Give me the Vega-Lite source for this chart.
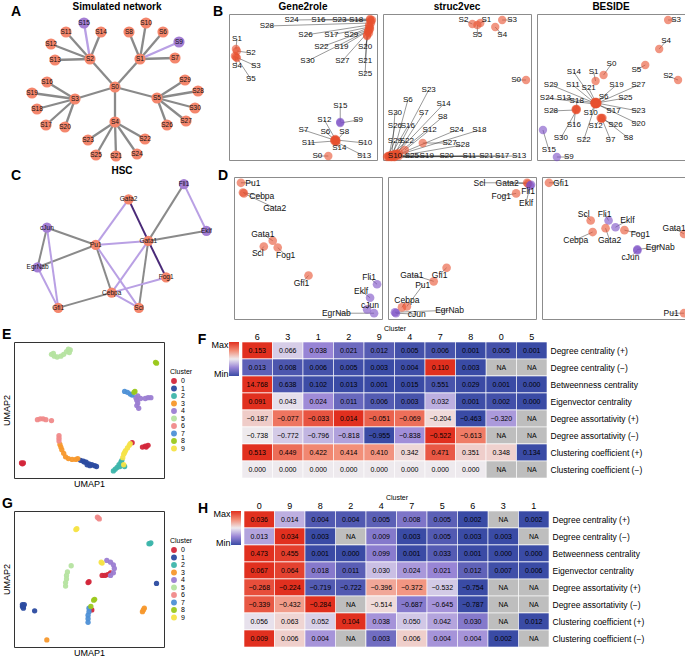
{
"$schema":"https://vega.github.io/schema/vega-lite/v6.json",
"padding":{"left":1,"top":1,"right":1,"bottom":1},
"spacing":4,
"resolve":{"scale":{"color":"independent","stroke":"independent"}},
"datasets":{
"nodesA":[
{"id":"S0","g":"a","x":99,"y":84},{"id":"S1","g":"a","x":124,"y":56},{"id":"S2","g":"a","x":74,"y":56},{"id":"S3","g":"a","x":59,"y":96},{"id":"S4","g":"a","x":99,"y":119},{"id":"S5","g":"a","x":141,"y":95},{"id":"S6","g":"a","x":147,"y":29},{"id":"S7","g":"a","x":159,"y":55},{"id":"S8","g":"a","x":113,"y":29},{"id":"S9","g":"b","x":163,"y":39},{"id":"S10","g":"a","x":130,"y":20},{"id":"S11","g":"a","x":50,"y":29},{"id":"S12","g":"a","x":35,"y":41},{"id":"S13","g":"a","x":39,"y":57},{"id":"S14","g":"a","x":85,"y":29},{"id":"S15","g":"b","x":68,"y":20},{"id":"S16","g":"a","x":31,"y":79},{"id":"S17","g":"a","x":30,"y":122},{"id":"S18","g":"a","x":21,"y":106},{"id":"S19","g":"a","x":16,"y":90},{"id":"S20","g":"a","x":49,"y":124},{"id":"S21","g":"a","x":100,"y":153},{"id":"S22","g":"a","x":129,"y":136},{"id":"S23","g":"a","x":72,"y":137},{"id":"S24","g":"a","x":121,"y":151},{"id":"S25","g":"a","x":80,"y":152},{"id":"S26","g":"a","x":151,"y":122},{"id":"S27","g":"a","x":170,"y":118},{"id":"S28","g":"a","x":182,"y":88},{"id":"S29","g":"a","x":169,"y":77},{"id":"S30","g":"a","x":179,"y":105}
],
"edgesA":[
{"s":"S0","t":"S1","k":"g"},{"s":"S0","t":"S2","k":"g"},{"s":"S0","t":"S3","k":"g"},{"s":"S0","t":"S4","k":"g"},{"s":"S0","t":"S5","k":"g"},
{"s":"S1","t":"S6","k":"g"},{"s":"S1","t":"S7","k":"g"},{"s":"S1","t":"S8","k":"g"},{"s":"S1","t":"S10","k":"g"},{"s":"S1","t":"S9","k":"l"},
{"s":"S2","t":"S11","k":"g"},{"s":"S2","t":"S12","k":"g"},{"s":"S2","t":"S13","k":"g"},{"s":"S2","t":"S14","k":"g"},{"s":"S2","t":"S15","k":"l"},
{"s":"S3","t":"S16","k":"g"},{"s":"S3","t":"S17","k":"g"},{"s":"S3","t":"S18","k":"g"},{"s":"S3","t":"S19","k":"g"},{"s":"S3","t":"S20","k":"g"},
{"s":"S4","t":"S21","k":"g"},{"s":"S4","t":"S22","k":"g"},{"s":"S4","t":"S23","k":"g"},{"s":"S4","t":"S24","k":"g"},{"s":"S4","t":"S25","k":"g"},
{"s":"S5","t":"S26","k":"g"},{"s":"S5","t":"S27","k":"g"},{"s":"S5","t":"S28","k":"g"},{"s":"S5","t":"S29","k":"g"},{"s":"S5","t":"S30","k":"g"}
],
"nodesC":[
{"id":"Gata2","g":"a","x":110,"y":182},{"id":"Fli1","g":"b","x":169,"y":167},{"id":"Eklf","g":"b","x":193,"y":213},{"id":"Gata1","g":"a","x":131,"y":223},{"id":"Pu1","g":"a","x":75,"y":227},{"id":"cJun","g":"b","x":23,"y":210},{"id":"EgrNab","g":"b","x":13,"y":249},{"id":"Fog1","g":"a","x":150,"y":259},{"id":"Cebpa","g":"a","x":92,"y":274},{"id":"Gfi1","g":"a","x":35,"y":289},{"id":"Scl","g":"a","x":121,"y":289}
],
"edgesC":[
{"s":"cJun","t":"Pu1","k":"g"},{"s":"EgrNab","t":"Pu1","k":"g"},{"s":"cJun","t":"EgrNab","k":"g"},{"s":"Pu1","t":"Cebpa","k":"g"},{"s":"Gata1","t":"Fli1","k":"g"},{"s":"Gata1","t":"Eklf","k":"g"},{"s":"Gata1","t":"Scl","k":"g"},{"s":"Gfi1","t":"Cebpa","k":"g"},
{"s":"Gata2","t":"Pu1","k":"l"},{"s":"Pu1","t":"Gata1","k":"l"},{"s":"Fli1","t":"Eklf","k":"l"},{"s":"cJun","t":"Gfi1","k":"l"},{"s":"EgrNab","t":"Gfi1","k":"l"},{"s":"Pu1","t":"Scl","k":"l"},{"s":"Gata1","t":"Cebpa","k":"l"},{"s":"Cebpa","t":"Fog1","k":"l"},{"s":"Cebpa","t":"Scl","k":"l"},
{"s":"Gata2","t":"Gata1","k":"d"},{"s":"Gata1","t":"Fog1","k":"d"}
],
"bg":[
{"id":"S0","g":"a","x":100,"y":142,"lx":89,"ly":142},{"id":"S1","g":"a","x":7,"y":35,"lx":8,"ly":25},{"id":"S2","g":"a","x":8,"y":37,"lx":22,"ly":39},{"id":"S3","g":"a","x":7,"y":43,"lx":27,"ly":52},{"id":"S4","g":"a","x":6,"y":42,"lx":8,"ly":52},{"id":"S5","g":"a","x":8,"y":44,"lx":22,"ly":65},
{"id":"S6","g":"a","x":107,"y":126,"lx":97,"ly":118},{"id":"S7","g":"a","x":106,"y":126,"lx":75,"ly":116},{"id":"S8","g":"a","x":108,"y":127,"lx":116,"ly":118},{"id":"S9","g":"b","x":112,"y":109,"lx":130,"ly":106},{"id":"S10","g":"a","x":108,"y":126,"lx":137,"ly":129},{"id":"S11","g":"a","x":106,"y":127,"lx":80,"ly":129},{"id":"S12","g":"a","x":107,"y":125,"lx":96,"ly":106},{"id":"S13","g":"a","x":108,"y":128,"lx":136,"ly":142},{"id":"S14","g":"a","x":107,"y":127,"lx":111,"ly":134},{"id":"S15","g":"b","x":112,"y":108,"lx":112,"ly":92},
{"id":"S16","g":"a","x":142,"y":6,"lx":90,"ly":6},{"id":"S17","g":"a","x":141,"y":13,"lx":103,"ly":21},{"id":"S18","g":"a","x":144,"y":6,"lx":128,"ly":6},{"id":"S19","g":"a","x":140,"y":17,"lx":113,"ly":33},{"id":"S20","g":"a","x":141,"y":19,"lx":137,"ly":33},{"id":"S21","g":"a","x":139,"y":21,"lx":137,"ly":47},{"id":"S22","g":"a","x":142,"y":15,"lx":93,"ly":33},{"id":"S23","g":"a","x":143,"y":7,"lx":111,"ly":6},{"id":"S24","g":"a","x":142,"y":5,"lx":63,"ly":6},{"id":"S25","g":"a","x":139,"y":22,"lx":137,"ly":60},{"id":"S26","g":"a","x":141,"y":11,"lx":77,"ly":21},{"id":"S27","g":"a","x":140,"y":18,"lx":114,"ly":47},{"id":"S28","g":"a","x":143,"y":9,"lx":38,"ly":12},{"id":"S29","g":"a","x":142,"y":13,"lx":123,"ly":21},{"id":"S30","g":"a","x":141,"y":16,"lx":79,"ly":47}
],
"bs":[
{"id":"S0","g":"a","x":144,"y":66,"lx":134,"ly":66},{"id":"S1","g":"a","x":98,"y":9,"lx":104,"ly":6},{"id":"S2","g":"a","x":90,"y":10,"lx":81,"ly":6},{"id":"S3","g":"a","x":120,"y":6,"lx":130,"ly":6},{"id":"S4","g":"a","x":113,"y":13,"lx":120,"ly":21},{"id":"S5","g":"a","x":95,"y":11,"lx":95,"ly":21},
{"id":"S6","g":"a","x":10,"y":141,"lx":25,"ly":86},{"id":"S7","g":"a","x":14,"y":140,"lx":41,"ly":99},{"id":"S8","g":"a","x":16,"y":139,"lx":60,"ly":103},{"id":"S10","g":"a","x":4,"y":143,"lx":12,"ly":142},{"id":"S11","g":"a","x":8,"y":143,"lx":87,"ly":142},{"id":"S12","g":"a","x":22,"y":136,"lx":47,"ly":116},{"id":"S13","g":"a","x":12,"y":143,"lx":137,"ly":142},{"id":"S14","g":"a","x":13,"y":140,"lx":61,"ly":90},
{"id":"S16","g":"a","x":8,"y":141,"lx":25,"ly":112},{"id":"S17","g":"a","x":11,"y":143,"lx":120,"ly":142},{"id":"S18","g":"a","x":15,"y":141,"lx":97,"ly":116},{"id":"S19","g":"a","x":9,"y":143,"lx":44,"ly":142},{"id":"S20","g":"a","x":10,"y":142,"lx":64,"ly":142},{"id":"S21","g":"a","x":11,"y":142,"lx":104,"ly":142},{"id":"S22","g":"a","x":7,"y":142,"lx":24,"ly":127},{"id":"S23","g":"a","x":12,"y":140,"lx":46,"ly":76},{"id":"S24","g":"a","x":14,"y":141,"lx":74,"ly":116},{"id":"S25","g":"a","x":6,"y":143,"lx":29,"ly":142},{"id":"S26","g":"a","x":6,"y":142,"lx":12,"ly":112},{"id":"S27","g":"a","x":40,"y":129,"lx":67,"ly":129},{"id":"S28","g":"a","x":16,"y":142,"lx":80,"ly":131},{"id":"S29","g":"a","x":5,"y":142,"lx":12,"ly":127},{"id":"S30","g":"a","x":9,"y":141,"lx":12,"ly":99}
],
"bb":[
{"id":"S0","g":"a","x":67,"y":61,"lx":75,"ly":50},{"id":"S1","g":"a","x":59,"y":67,"lx":57,"ly":58},{"id":"S2","g":"a","x":142,"y":66,"lx":132,"ly":62},{"id":"S3","g":"a","x":132,"y":6,"lx":140,"ly":6},{"id":"S4","g":"a","x":123,"y":35,"lx":130,"ly":27},{"id":"S5","g":"a","x":109,"y":51,"lx":100,"ly":56},
{"id":"S6","g":"a","x":60,"y":89,"lx":67,"ly":83},{"id":"S7","g":"a","x":65,"y":104,"lx":74,"ly":126},{"id":"S8","g":"a","x":66,"y":104,"lx":92,"ly":124},{"id":"S9","g":"b","x":20,"y":143,"lx":32,"ly":143},{"id":"S10","g":"a","x":59,"y":90,"lx":54,"ly":99},{"id":"S11","g":"a","x":58,"y":89,"lx":36,"ly":71},{"id":"S12","g":"a","x":64,"y":104,"lx":59,"ly":112},{"id":"S13","g":"a","x":59,"y":89,"lx":27,"ly":84},{"id":"S14","g":"a","x":58,"y":88,"lx":37,"ly":58},{"id":"S15","g":"b","x":6,"y":116,"lx":12,"ly":136},
{"id":"S16","g":"a","x":39,"y":95,"lx":37,"ly":111},{"id":"S17","g":"a","x":60,"y":90,"lx":77,"ly":97},{"id":"S18","g":"a","x":40,"y":95,"lx":40,"ly":87},{"id":"S19","g":"a","x":60,"y":88,"lx":80,"ly":71},{"id":"S20","g":"a","x":60,"y":90,"lx":102,"ly":110},{"id":"S21","g":"a","x":59,"y":88,"lx":52,"ly":74},{"id":"S22","g":"a","x":59,"y":90,"lx":47,"ly":126},{"id":"S23","g":"a","x":60,"y":89,"lx":102,"ly":97},{"id":"S24","g":"a","x":58,"y":90,"lx":10,"ly":84},{"id":"S25","g":"a","x":60,"y":89,"lx":89,"ly":84},{"id":"S26","g":"a","x":65,"y":105,"lx":79,"ly":111},{"id":"S27","g":"a","x":61,"y":89,"lx":102,"ly":71},{"id":"S28","g":"a","x":39,"y":96,"lx":14,"ly":97},{"id":"S29","g":"a","x":58,"y":89,"lx":14,"ly":71},{"id":"S30","g":"a","x":40,"y":96,"lx":24,"ly":124}
],
"dg":[
{"id":"Pu1","g":"a","x":7,"y":6,"lx":19,"ly":6},{"id":"Cebpa","g":"a","x":9,"y":16,"lx":28,"ly":20},{"id":"Gata2","g":"a","x":10,"y":17,"lx":41,"ly":32},{"id":"Gata1","g":"a","x":39,"y":66,"lx":29,"ly":59},{"id":"Scl","g":"a","x":30,"y":72,"lx":24,"ly":79},{"id":"Fog1","g":"a","x":44,"y":73,"lx":52,"ly":81},{"id":"Gfi1","g":"a","x":75,"y":102,"lx":68,"ly":110},{"id":"Fli1","g":"b","x":144,"y":111,"lx":136,"ly":104},{"id":"Eklf","g":"b","x":137,"y":125,"lx":128,"ly":118},{"id":"cJun","g":"b","x":134,"y":137,"lx":137,"ly":132},{"id":"EgrNab","g":"b","x":141,"y":141,"lx":103,"ly":141}
],
"ds":[
{"id":"Gfi1","g":"a","x":59,"y":94,"lx":52,"ly":101},{"id":"Gata1","g":"a","x":46,"y":108,"lx":24,"ly":101},{"id":"Pu1","g":"a","x":19,"y":134,"lx":35,"ly":112},{"id":"Cebpa","g":"a","x":14,"y":135,"lx":19,"ly":127},{"id":"cJun","g":"b","x":8,"y":141,"lx":29,"ly":142},{"id":"EgrNab","g":"b","x":7,"y":140,"lx":62,"ly":138},{"id":"Scl","g":"a","x":140,"y":6,"lx":92,"ly":6},{"id":"Gata2","g":"a","x":141,"y":7,"lx":120,"ly":6},{"id":"Fli1","g":"b","x":144,"y":8,"lx":141,"ly":15},{"id":"Eklf","g":"b","x":143,"y":9,"lx":139,"ly":27},{"id":"Fog1","g":"a","x":129,"y":17,"lx":114,"ly":20}
],
"db":[
{"id":"Gfi1","g":"a","x":7,"y":6,"lx":19,"ly":6},{"id":"Scl","g":"a","x":49,"y":45,"lx":42,"ly":38},{"id":"Fli1","g":"b","x":67,"y":45,"lx":63,"ly":38},{"id":"Eklf","g":"b","x":74,"y":52,"lx":86,"ly":45},{"id":"Gata2","g":"a","x":64,"y":53,"lx":68,"ly":65},{"id":"Cebpa","g":"a","x":51,"y":57,"lx":34,"ly":65},{"id":"Fog1","g":"a","x":83,"y":55,"lx":99,"ly":59},{"id":"Gata1","g":"a","x":143,"y":59,"lx":133,"ly":53},{"id":"EgrNab","g":"b","x":96,"y":75,"lx":119,"ly":72},{"id":"cJun","g":"b","x":96,"y":76,"lx":89,"ly":83},{"id":"Pu1","g":"a","x":143,"y":141,"lx":130,"ly":141}
],
"umapE":[
{"k":"0","x":8,"y":137},{"k":"0","x":10,"y":137},{"k":"0","x":9,"y":138},{"k":"0","x":126,"y":114},{"k":"0","x":137,"y":119},{"k":"0","x":140,"y":118},{"k":"0","x":143,"y":117},{"k":"0","x":141,"y":119},
{"k":"1","x":71,"y":134},{"k":"1","x":74,"y":135},{"k":"1","x":77,"y":136},{"k":"1","x":80,"y":138},{"k":"1","x":83,"y":139},{"k":"1","x":86,"y":140},{"k":"1","x":88,"y":141},{"k":"1","x":78,"y":139},{"k":"1","x":81,"y":140},{"k":"1","x":75,"y":136},
{"k":"2","x":106,"y":146},{"k":"2","x":108,"y":144},{"k":"2","x":110,"y":142},{"k":"2","x":112,"y":139},{"k":"2","x":114,"y":136},{"k":"2","x":115,"y":134},{"k":"2","x":118,"y":141},{"k":"2","x":113,"y":141},
{"k":"3","x":49,"y":116},{"k":"3","x":50,"y":119},{"k":"3","x":51,"y":122},{"k":"3","x":53,"y":126},{"k":"3","x":55,"y":130},{"k":"3","x":58,"y":132},{"k":"3","x":62,"y":133},{"k":"3","x":66,"y":133},{"k":"3","x":68,"y":132},
{"k":"4","x":130,"y":63},{"k":"4","x":131,"y":66},{"k":"4","x":132,"y":69},{"k":"4","x":131,"y":72},{"k":"4","x":133,"y":75},{"k":"4","x":135,"y":64},{"k":"4","x":143,"y":63},{"k":"4","x":146,"y":63},{"k":"4","x":140,"y":64},{"k":"4","x":132,"y":61},
{"k":"5","x":40,"y":14},{"k":"5","x":43,"y":16},{"k":"5","x":46,"y":17},{"k":"5","x":50,"y":16},{"k":"5","x":53,"y":14},{"k":"5","x":56,"y":11},{"k":"5","x":58,"y":8},{"k":"5","x":60,"y":9},{"k":"5","x":59,"y":12},{"k":"5","x":42,"y":13},
{"k":"6","x":25,"y":88},{"k":"6","x":28,"y":87},{"k":"6","x":31,"y":87},{"k":"6","x":34,"y":88},{"k":"6","x":40,"y":89},{"k":"6","x":48,"y":106},{"k":"6","x":48,"y":109},{"k":"6","x":48,"y":112},
{"k":"7","x":118,"y":56},{"k":"7","x":121,"y":57},{"k":"7","x":124,"y":59},{"k":"7","x":126,"y":60},
{"k":"8","x":151,"y":23},{"k":"8","x":152,"y":24},{"k":"8","x":128,"y":57},{"k":"8","x":129,"y":56},
{"k":"9","x":116,"y":131},{"k":"9","x":117,"y":127},{"k":"9","x":119,"y":123},{"k":"9","x":121,"y":120},{"k":"9","x":123,"y":117},{"k":"9","x":124,"y":115},{"k":"9","x":117,"y":139},{"k":"9","x":118,"y":125}
],
"umapG":[
{"k":"0","x":94,"y":73},{"k":"0","x":97,"y":73},{"k":"0","x":100,"y":72},{"k":"0","x":103,"y":70},{"k":"0","x":79,"y":81},{"k":"0","x":80,"y":80},{"k":"0","x":83,"y":112},
{"k":"1","x":152,"y":82},{"k":"1","x":9,"y":108},{"k":"1","x":10,"y":108},{"k":"1","x":9,"y":106},{"k":"1","x":11,"y":106},{"k":"1","x":10,"y":110},{"k":"1","x":22,"y":113},
{"k":"2","x":145,"y":37},{"k":"2","x":144,"y":37},{"k":"2","x":146,"y":36},
{"k":"3","x":139,"y":110},{"k":"3","x":137,"y":114},{"k":"3","x":138,"y":112},{"k":"3","x":35,"y":146},
{"k":"4","x":99,"y":56},{"k":"4","x":103,"y":58},{"k":"4","x":106,"y":61},{"k":"4","x":107,"y":65},{"k":"4","x":106,"y":70},{"k":"4","x":103,"y":73},
{"k":"5","x":61,"y":62},{"k":"5","x":57,"y":69},{"k":"5","x":56,"y":73},{"k":"5","x":56,"y":77},{"k":"5","x":55,"y":81},{"k":"5","x":55,"y":85},
{"k":"6","x":90,"y":8},{"k":"6","x":89,"y":7},{"k":"6","x":91,"y":9},
{"k":"7","x":80,"y":110},{"k":"7","x":80,"y":114},{"k":"7","x":79,"y":118},{"k":"7","x":79,"y":122},{"k":"7","x":79,"y":126},
{"k":"8","x":85,"y":101},{"k":"8","x":86,"y":100},{"k":"8","x":82,"y":108},
{"k":"9","x":66,"y":21},{"k":"9","x":67,"y":20},{"k":"9","x":94,"y":59},{"k":"9","x":93,"y":58}
],
"leg":[{"lo":0,"hi":1}],
"heatF":[
{"m":"Degree centrality (+)","c":"6","v":0.153},{"m":"Degree centrality (+)","c":"3","v":0.066},{"m":"Degree centrality (+)","c":"1","v":0.038},{"m":"Degree centrality (+)","c":"2","v":0.021},{"m":"Degree centrality (+)","c":"9","v":0.012},{"m":"Degree centrality (+)","c":"4","v":0.005},{"m":"Degree centrality (+)","c":"7","v":0.006},{"m":"Degree centrality (+)","c":"8","v":0.001},{"m":"Degree centrality (+)","c":"0","v":0.005},{"m":"Degree centrality (+)","c":"5","v":0.001},
{"m":"Degree centrality (−)","c":"6","v":0.013},{"m":"Degree centrality (−)","c":"3","v":0.008},{"m":"Degree centrality (−)","c":"1","v":0.006},{"m":"Degree centrality (−)","c":"2","v":0.005},{"m":"Degree centrality (−)","c":"9","v":0.003},{"m":"Degree centrality (−)","c":"4","v":0.004},{"m":"Degree centrality (−)","c":"7","v":0.110},{"m":"Degree centrality (−)","c":"8","v":0.003},{"m":"Degree centrality (−)","c":"0","v":null},{"m":"Degree centrality (−)","c":"5","v":null},
{"m":"Betweenness centrality","c":"6","v":14.768},{"m":"Betweenness centrality","c":"3","v":0.638},{"m":"Betweenness centrality","c":"1","v":0.102},{"m":"Betweenness centrality","c":"2","v":0.013},{"m":"Betweenness centrality","c":"9","v":0.001},{"m":"Betweenness centrality","c":"4","v":0.015},{"m":"Betweenness centrality","c":"7","v":0.551},{"m":"Betweenness centrality","c":"8","v":0.029},{"m":"Betweenness centrality","c":"0","v":0.001},{"m":"Betweenness centrality","c":"5","v":0.000},
{"m":"Eigenvector centrality","c":"6","v":0.091},{"m":"Eigenvector centrality","c":"3","v":0.043},{"m":"Eigenvector centrality","c":"1","v":0.024},{"m":"Eigenvector centrality","c":"2","v":0.011},{"m":"Eigenvector centrality","c":"9","v":0.006},{"m":"Eigenvector centrality","c":"4","v":0.003},{"m":"Eigenvector centrality","c":"7","v":0.032},{"m":"Eigenvector centrality","c":"8","v":0.001},{"m":"Eigenvector centrality","c":"0","v":0.002},{"m":"Eigenvector centrality","c":"5","v":0.000},
{"m":"Degree assortativity (+)","c":"6","v":-0.187},{"m":"Degree assortativity (+)","c":"3","v":-0.077},{"m":"Degree assortativity (+)","c":"1","v":-0.033},{"m":"Degree assortativity (+)","c":"2","v":0.014},{"m":"Degree assortativity (+)","c":"9","v":-0.051},{"m":"Degree assortativity (+)","c":"4","v":-0.069},{"m":"Degree assortativity (+)","c":"7","v":-0.204},{"m":"Degree assortativity (+)","c":"8","v":-0.463},{"m":"Degree assortativity (+)","c":"0","v":-0.320},{"m":"Degree assortativity (+)","c":"5","v":null},
{"m":"Degree assortativity (−)","c":"6","v":-0.738},{"m":"Degree assortativity (−)","c":"3","v":-0.772},{"m":"Degree assortativity (−)","c":"1","v":-0.796},{"m":"Degree assortativity (−)","c":"2","v":-0.818},{"m":"Degree assortativity (−)","c":"9","v":-0.955},{"m":"Degree assortativity (−)","c":"4","v":-0.838},{"m":"Degree assortativity (−)","c":"7","v":-0.522},{"m":"Degree assortativity (−)","c":"8","v":-0.613},{"m":"Degree assortativity (−)","c":"0","v":null},{"m":"Degree assortativity (−)","c":"5","v":null},
{"m":"Clustering coefficient (+)","c":"6","v":0.513},{"m":"Clustering coefficient (+)","c":"3","v":0.449},{"m":"Clustering coefficient (+)","c":"1","v":0.422},{"m":"Clustering coefficient (+)","c":"2","v":0.414},{"m":"Clustering coefficient (+)","c":"9","v":0.410},{"m":"Clustering coefficient (+)","c":"4","v":0.342},{"m":"Clustering coefficient (+)","c":"7","v":0.471},{"m":"Clustering coefficient (+)","c":"8","v":0.351},{"m":"Clustering coefficient (+)","c":"0","v":0.348},{"m":"Clustering coefficient (+)","c":"5","v":0.134},
{"m":"Clustering coefficient (−)","c":"6","v":0},{"m":"Clustering coefficient (−)","c":"3","v":0},{"m":"Clustering coefficient (−)","c":"1","v":0},{"m":"Clustering coefficient (−)","c":"2","v":0},{"m":"Clustering coefficient (−)","c":"9","v":0},{"m":"Clustering coefficient (−)","c":"4","v":0},{"m":"Clustering coefficient (−)","c":"7","v":0},{"m":"Clustering coefficient (−)","c":"8","v":0},{"m":"Clustering coefficient (−)","c":"0","v":null},{"m":"Clustering coefficient (−)","c":"5","v":null}
],
"heatH":[
{"m":"Degree centrality (+)","c":"0","v":0.036},{"m":"Degree centrality (+)","c":"9","v":0.014},{"m":"Degree centrality (+)","c":"8","v":0.004},{"m":"Degree centrality (+)","c":"2","v":0.004},{"m":"Degree centrality (+)","c":"4","v":0.005},{"m":"Degree centrality (+)","c":"7","v":0.008},{"m":"Degree centrality (+)","c":"5","v":0.005},{"m":"Degree centrality (+)","c":"6","v":0.002},{"m":"Degree centrality (+)","c":"3","v":null},{"m":"Degree centrality (+)","c":"1","v":0.002},
{"m":"Degree centrality (−)","c":"0","v":0.013},{"m":"Degree centrality (−)","c":"9","v":0.034},{"m":"Degree centrality (−)","c":"8","v":0.003},{"m":"Degree centrality (−)","c":"2","v":null},{"m":"Degree centrality (−)","c":"4","v":0.009},{"m":"Degree centrality (−)","c":"7","v":0.003},{"m":"Degree centrality (−)","c":"5","v":0.005},{"m":"Degree centrality (−)","c":"6","v":0.003},{"m":"Degree centrality (−)","c":"3","v":0.003},{"m":"Degree centrality (−)","c":"1","v":null},
{"m":"Betweenness centrality","c":"0","v":0.473},{"m":"Betweenness centrality","c":"9","v":0.455},{"m":"Betweenness centrality","c":"8","v":0.001},{"m":"Betweenness centrality","c":"2","v":0.000},{"m":"Betweenness centrality","c":"4","v":0.099},{"m":"Betweenness centrality","c":"7","v":0.001},{"m":"Betweenness centrality","c":"5","v":0.033},{"m":"Betweenness centrality","c":"6","v":0.001},{"m":"Betweenness centrality","c":"3","v":0.000},{"m":"Betweenness centrality","c":"1","v":0.000},
{"m":"Eigenvector centrality","c":"0","v":0.067},{"m":"Eigenvector centrality","c":"9","v":0.064},{"m":"Eigenvector centrality","c":"8","v":0.018},{"m":"Eigenvector centrality","c":"2","v":0.011},{"m":"Eigenvector centrality","c":"4","v":0.030},{"m":"Eigenvector centrality","c":"7","v":0.024},{"m":"Eigenvector centrality","c":"5","v":0.021},{"m":"Eigenvector centrality","c":"6","v":0.012},{"m":"Eigenvector centrality","c":"3","v":0.007},{"m":"Eigenvector centrality","c":"1","v":0.006},
{"m":"Degree assortativity (+)","c":"0","v":-0.268},{"m":"Degree assortativity (+)","c":"9","v":-0.224},{"m":"Degree assortativity (+)","c":"8","v":-0.719},{"m":"Degree assortativity (+)","c":"2","v":-0.722},{"m":"Degree assortativity (+)","c":"4","v":-0.396},{"m":"Degree assortativity (+)","c":"7","v":-0.372},{"m":"Degree assortativity (+)","c":"5","v":-0.532},{"m":"Degree assortativity (+)","c":"6","v":-0.754},{"m":"Degree assortativity (+)","c":"3","v":null},{"m":"Degree assortativity (+)","c":"1","v":null},
{"m":"Degree assortativity (−)","c":"0","v":-0.339},{"m":"Degree assortativity (−)","c":"9","v":-0.432},{"m":"Degree assortativity (−)","c":"8","v":-0.284},{"m":"Degree assortativity (−)","c":"2","v":null},{"m":"Degree assortativity (−)","c":"4","v":-0.514},{"m":"Degree assortativity (−)","c":"7","v":-0.687},{"m":"Degree assortativity (−)","c":"5","v":-0.645},{"m":"Degree assortativity (−)","c":"6","v":-0.787},{"m":"Degree assortativity (−)","c":"3","v":null},{"m":"Degree assortativity (−)","c":"1","v":null},
{"m":"Clustering coefficient (+)","c":"0","v":0.056},{"m":"Clustering coefficient (+)","c":"9","v":0.063},{"m":"Clustering coefficient (+)","c":"8","v":0.052},{"m":"Clustering coefficient (+)","c":"2","v":0.104},{"m":"Clustering coefficient (+)","c":"4","v":0.038},{"m":"Clustering coefficient (+)","c":"7","v":0.050},{"m":"Clustering coefficient (+)","c":"5","v":0.042},{"m":"Clustering coefficient (+)","c":"6","v":0.030},{"m":"Clustering coefficient (+)","c":"3","v":null},{"m":"Clustering coefficient (+)","c":"1","v":0.012},
{"m":"Clustering coefficient (−)","c":"0","v":0.009},{"m":"Clustering coefficient (−)","c":"9","v":0.006},{"m":"Clustering coefficient (−)","c":"8","v":0.004},{"m":"Clustering coefficient (−)","c":"2","v":null},{"m":"Clustering coefficient (−)","c":"4","v":0.003},{"m":"Clustering coefficient (−)","c":"7","v":0.006},{"m":"Clustering coefficient (−)","c":"5","v":0.004},{"m":"Clustering coefficient (−)","c":"6","v":0.004},{"m":"Clustering coefficient (−)","c":"3","v":0.002},{"m":"Clustering coefficient (−)","c":"1","v":null}
]
},
"vconcat":[
{"spacing":4,"resolve":{"scale":{"color":"independent","stroke":"independent"}},"vconcat":[
 {"spacing":4,"resolve":{"scale":{"color":"independent","stroke":"independent"}},"hconcat":[
  {"width":4,"height":14,"data":{"values":[{"t":"A"}]},"mark":{"type":"text","fontSize":14,"fontWeight":"bold","color":"#000","baseline":"bottom","dy":-2},"encoding":{"text":{"field":"t"}}},
  {"width":182,"height":146,"title":{"text":"Simulated network","offset":2},
   "layer":[
    {"data":{"name":"edgesA"},
     "transform":[{"lookup":"s","from":{"data":{"name":"nodesA"},"key":"id","fields":["x","y"]},"as":["xa","ya"]},{"lookup":"t","from":{"data":{"name":"nodesA"},"key":"id","fields":["x","y"]},"as":["xb","yb"]}],
     "mark":{"type":"rule","strokeWidth":2.3},
     "encoding":{"x":{"field":"xa","type":"quantitative","scale":{"domain":[10,192],"nice":false},"axis":null},"y":{"field":"ya","type":"quantitative","scale":{"domain":[11,157],"nice":false,"reverse":true},"axis":null},"x2":{"field":"xb"},"y2":{"field":"yb"},
      "stroke":{"field":"k","type":"nominal","scale":{"domain":["g","l","d"],"range":["#8a8a8a","#b9a0e4","#4a2a78"]},"legend":null}}},
    {"data":{"name":"nodesA"},"mark":{"type":"circle","size":125,"opacity":1},
     "encoding":{"x":{"field":"x","type":"quantitative","scale":{"domain":[10,192],"nice":false},"axis":null},"y":{"field":"y","type":"quantitative","scale":{"domain":[11,157],"nice":false,"reverse":true},"axis":null},
      "color":{"field":"g","type":"nominal","scale":{"domain":["a","b"],"range":["#F4866C","#A47ED4"]},"legend":null}}},
    {"data":{"name":"nodesA"},"mark":{"type":"text","fontSize":6.5,"color":"#111"},
     "encoding":{"x":{"field":"x","type":"quantitative","scale":{"domain":[10,192],"nice":false},"axis":null},"y":{"field":"y","type":"quantitative","scale":{"domain":[11,157],"nice":false,"reverse":true},"axis":null},"text":{"field":"id"}}}
   ]},
  {"width":4,"height":14,"data":{"values":[{"t":"B"}]},"mark":{"type":"text","fontSize":14,"fontWeight":"bold","color":"#000","baseline":"bottom","dy":-2},"encoding":{"text":{"field":"t"}}},
  {"title":{"text":"Gene2role","offset":2},"width":148,"height":146,"view":{"stroke":"#8c8c8c"},"data":{"name":"bg"},
   "layer":[
    {"mark":{"type":"rule","color":"#333","strokeWidth":0.5},"encoding":{"x":{"field":"x","type":"quantitative","scale":{"domain":[0,149],"nice":false},"axis":null},"y":{"field":"y","type":"quantitative","scale":{"domain":[0,146],"nice":false,"reverse":true},"axis":null},"x2":{"field":"lx"},"y2":{"field":"ly"}}},
    {"mark":{"type":"circle","size":70,"opacity":0.6},"encoding":{"x":{"field":"x","type":"quantitative","scale":{"domain":[0,149],"nice":false},"axis":null},"y":{"field":"y","type":"quantitative","scale":{"domain":[0,146],"nice":false,"reverse":true},"axis":null},"color":{"field":"g","type":"nominal","scale":{"domain":["a","b"],"range":["#E8502E","#7A4CC4"]},"legend":null}}},
    {"mark":{"type":"text","fontSize":8,"color":"#111"},"encoding":{"x":{"field":"lx","type":"quantitative","scale":{"domain":[0,149],"nice":false},"axis":null},"y":{"field":"ly","type":"quantitative","scale":{"domain":[0,146],"nice":false,"reverse":true},"axis":null},"text":{"field":"id"}}}
   ]},
  {"title":{"text":"struc2vec","offset":2},"width":148,"height":146,"view":{"stroke":"#8c8c8c"},"data":{"name":"bs"},
   "layer":[
    {"mark":{"type":"rule","color":"#333","strokeWidth":0.5},"encoding":{"x":{"field":"x","type":"quantitative","scale":{"domain":[0,149],"nice":false},"axis":null},"y":{"field":"y","type":"quantitative","scale":{"domain":[0,146],"nice":false,"reverse":true},"axis":null},"x2":{"field":"lx"},"y2":{"field":"ly"}}},
    {"mark":{"type":"circle","size":70,"opacity":0.6},"encoding":{"x":{"field":"x","type":"quantitative","scale":{"domain":[0,149],"nice":false},"axis":null},"y":{"field":"y","type":"quantitative","scale":{"domain":[0,146],"nice":false,"reverse":true},"axis":null},"color":{"field":"g","type":"nominal","scale":{"domain":["a","b"],"range":["#E8502E","#7A4CC4"]},"legend":null}}},
    {"mark":{"type":"text","fontSize":8,"color":"#111"},"encoding":{"x":{"field":"lx","type":"quantitative","scale":{"domain":[0,149],"nice":false},"axis":null},"y":{"field":"ly","type":"quantitative","scale":{"domain":[0,146],"nice":false,"reverse":true},"axis":null},"text":{"field":"id"}}}
   ]},
  {"title":{"text":"BESIDE","offset":2},"width":148,"height":146,"view":{"stroke":"#8c8c8c"},"data":{"name":"bb"},
   "layer":[
    {"mark":{"type":"rule","color":"#333","strokeWidth":0.5},"encoding":{"x":{"field":"x","type":"quantitative","scale":{"domain":[0,149],"nice":false},"axis":null},"y":{"field":"y","type":"quantitative","scale":{"domain":[0,146],"nice":false,"reverse":true},"axis":null},"x2":{"field":"lx"},"y2":{"field":"ly"}}},
    {"mark":{"type":"circle","size":70,"opacity":0.6},"encoding":{"x":{"field":"x","type":"quantitative","scale":{"domain":[0,149],"nice":false},"axis":null},"y":{"field":"y","type":"quantitative","scale":{"domain":[0,146],"nice":false,"reverse":true},"axis":null},"color":{"field":"g","type":"nominal","scale":{"domain":["a","b"],"range":["#E8502E","#7A4CC4"]},"legend":null}}},
    {"mark":{"type":"text","fontSize":8,"color":"#111"},"encoding":{"x":{"field":"lx","type":"quantitative","scale":{"domain":[0,149],"nice":false},"axis":null},"y":{"field":"ly","type":"quantitative","scale":{"domain":[0,146],"nice":false,"reverse":true},"axis":null},"text":{"field":"id"}}}
   ]}
 ]},
 {"spacing":4,"resolve":{"scale":{"color":"independent","stroke":"independent"}},"hconcat":[
  {"width":4,"height":14,"data":{"values":[{"t":"C"}]},"mark":{"type":"text","fontSize":14,"fontWeight":"bold","color":"#000","baseline":"bottom","dy":-1},"encoding":{"text":{"field":"t"}}},
  {"width":182,"height":142,"title":{"text":"HSC","offset":1},
   "layer":[
    {"data":{"name":"edgesC"},
     "transform":[{"lookup":"s","from":{"data":{"name":"nodesC"},"key":"id","fields":["x","y"]},"as":["xa","ya"]},{"lookup":"t","from":{"data":{"name":"nodesC"},"key":"id","fields":["x","y"]},"as":["xb","yb"]}],
     "mark":{"type":"rule","strokeWidth":2},
     "encoding":{"x":{"field":"xa","type":"quantitative","scale":{"domain":[6,200],"nice":false},"axis":null},"y":{"field":"ya","type":"quantitative","scale":{"domain":[160,300],"nice":false,"reverse":true},"axis":null},"x2":{"field":"xb"},"y2":{"field":"yb"},
      "stroke":{"field":"k","type":"nominal","scale":{"domain":["g","l","d"],"range":["#8a8a8a","#b9a0e4","#4a2a78"]},"legend":null}}},
    {"data":{"name":"nodesC"},"mark":{"type":"circle","size":105,"opacity":1},
     "encoding":{"x":{"field":"x","type":"quantitative","scale":{"domain":[6,200],"nice":false},"axis":null},"y":{"field":"y","type":"quantitative","scale":{"domain":[160,300],"nice":false,"reverse":true},"axis":null},
      "color":{"field":"g","type":"nominal","scale":{"domain":["a","b"],"range":["#F4866C","#A47ED4"]},"legend":null}}},
    {"data":{"name":"nodesC"},"mark":{"type":"text","fontSize":6.5,"color":"#111"},
     "encoding":{"x":{"field":"x","type":"quantitative","scale":{"domain":[6,200],"nice":false},"axis":null},"y":{"field":"y","type":"quantitative","scale":{"domain":[160,300],"nice":false,"reverse":true},"axis":null},"text":{"field":"id"}}}
   ]},
  {"width":4,"height":14,"data":{"values":[{"t":"D"}]},"mark":{"type":"text","fontSize":14,"fontWeight":"bold","color":"#000","baseline":"bottom","dy":-1},"encoding":{"text":{"field":"t"}}},
  {"width":148,"height":142,"view":{"stroke":"#8c8c8c"},"data":{"name":"dg"},
   "layer":[
    {"mark":{"type":"rule","color":"#333","strokeWidth":0.5},"encoding":{"x":{"field":"x","type":"quantitative","scale":{"domain":[0,149],"nice":false},"axis":null},"y":{"field":"y","type":"quantitative","scale":{"domain":[0,147],"nice":false,"reverse":true},"axis":null},"x2":{"field":"lx"},"y2":{"field":"ly"}}},
    {"mark":{"type":"circle","size":75,"opacity":0.6},"encoding":{"x":{"field":"x","type":"quantitative","scale":{"domain":[0,149],"nice":false},"axis":null},"y":{"field":"y","type":"quantitative","scale":{"domain":[0,147],"nice":false,"reverse":true},"axis":null},"color":{"field":"g","type":"nominal","scale":{"domain":["a","b"],"range":["#E8502E","#7A4CC4"]},"legend":null}}},
    {"mark":{"type":"text","fontSize":8.5,"color":"#111"},"encoding":{"x":{"field":"lx","type":"quantitative","scale":{"domain":[0,149],"nice":false},"axis":null},"y":{"field":"ly","type":"quantitative","scale":{"domain":[0,147],"nice":false,"reverse":true},"axis":null},"text":{"field":"id"}}}
   ]},
  {"width":148,"height":142,"view":{"stroke":"#8c8c8c"},"data":{"name":"ds"},
   "layer":[
    {"mark":{"type":"rule","color":"#333","strokeWidth":0.5},"encoding":{"x":{"field":"x","type":"quantitative","scale":{"domain":[0,149],"nice":false},"axis":null},"y":{"field":"y","type":"quantitative","scale":{"domain":[0,147],"nice":false,"reverse":true},"axis":null},"x2":{"field":"lx"},"y2":{"field":"ly"}}},
    {"mark":{"type":"circle","size":75,"opacity":0.6},"encoding":{"x":{"field":"x","type":"quantitative","scale":{"domain":[0,149],"nice":false},"axis":null},"y":{"field":"y","type":"quantitative","scale":{"domain":[0,147],"nice":false,"reverse":true},"axis":null},"color":{"field":"g","type":"nominal","scale":{"domain":["a","b"],"range":["#E8502E","#7A4CC4"]},"legend":null}}},
    {"mark":{"type":"text","fontSize":8.5,"color":"#111"},"encoding":{"x":{"field":"lx","type":"quantitative","scale":{"domain":[0,149],"nice":false},"axis":null},"y":{"field":"ly","type":"quantitative","scale":{"domain":[0,147],"nice":false,"reverse":true},"axis":null},"text":{"field":"id"}}}
   ]},
  {"width":148,"height":142,"view":{"stroke":"#8c8c8c"},"data":{"name":"db"},
   "layer":[
    {"mark":{"type":"rule","color":"#333","strokeWidth":0.5},"encoding":{"x":{"field":"x","type":"quantitative","scale":{"domain":[0,149],"nice":false},"axis":null},"y":{"field":"y","type":"quantitative","scale":{"domain":[0,147],"nice":false,"reverse":true},"axis":null},"x2":{"field":"lx"},"y2":{"field":"ly"}}},
    {"mark":{"type":"circle","size":75,"opacity":0.6},"encoding":{"x":{"field":"x","type":"quantitative","scale":{"domain":[0,149],"nice":false},"axis":null},"y":{"field":"y","type":"quantitative","scale":{"domain":[0,147],"nice":false,"reverse":true},"axis":null},"color":{"field":"g","type":"nominal","scale":{"domain":["a","b"],"range":["#E8502E","#7A4CC4"]},"legend":null}}},
    {"mark":{"type":"text","fontSize":8.5,"color":"#111"},"encoding":{"x":{"field":"lx","type":"quantitative","scale":{"domain":[0,149],"nice":false},"axis":null},"y":{"field":"ly","type":"quantitative","scale":{"domain":[0,147],"nice":false,"reverse":true},"axis":null},"text":{"field":"id"}}}
   ]}
 ]}
]},
{"spacing":4,"resolve":{"scale":{"color":"independent","stroke":"independent"}},"vconcat":[
 {"spacing":3,"resolve":{"scale":{"color":"independent","stroke":"independent"}},"hconcat":[
  {"width":150,"height":136,"view":{"stroke":"#333","strokeWidth":1},"data":{"name":"umapE"},
   "title":{"text":"E","anchor":"start","fontSize":14,"offset":0},
   "mark":{"type":"circle","size":28,"opacity":0.95},
   "encoding":{
    "x":{"field":"x","type":"quantitative","scale":{"domain":[0,160],"nice":false},"axis":{"title":"UMAP1","labels":false,"ticks":false,"domain":false,"grid":false,"titleFontSize":9,"titleFontWeight":"normal","titlePadding":1}},
    "y":{"field":"y","type":"quantitative","scale":{"domain":[0,154],"nice":false,"reverse":true},"axis":{"title":"UMAP2","labels":false,"ticks":false,"domain":false,"grid":false,"titleFontSize":9,"titleFontWeight":"normal","titlePadding":3}},
    "color":{"field":"k","type":"nominal","scale":{"domain":["0","1","2","3","4","5","6","7","8","9"],"range":["#D3263A","#2B4BA0","#3DB5AB","#F7982C","#9B7DD2","#B5E3A0","#F08A8A","#4E90D6","#9BC81C","#F6E346"]},
     "legend":{"title":"Cluster","orient":"none","legendX":156,"legendY":26,"titleFontSize":7,"titleFontWeight":"normal","labelFontSize":7,"symbolSize":34,"symbolType":"circle","rowPadding":0.5,"titlePadding":2,"labelOffset":3,"padding":0}}}},
  {"width":4,"height":14,"data":{"values":[{"t":"F"}]},"mark":{"type":"text","fontSize":14,"fontWeight":"bold","color":"#000","baseline":"bottom","dy":-2},"encoding":{"text":{"field":"t"}}},
  {"spacing":2,"resolve":{"scale":{"color":"independent"}},"hconcat":[
   {"width":10,"height":34,"data":{"name":"leg"},
    "mark":{"type":"rect","color":{"gradient":"linear","x1":0,"y1":1,"x2":0,"y2":0,"stops":[{"offset":0,"color":"#3A4BA5"},{"offset":0.25,"color":"#9A86D6"},{"offset":0.5,"color":"#EEEAEE"},{"offset":0.75,"color":"#F28B74"},{"offset":1,"color":"#E1301F"}]}},
    "encoding":{"y":{"field":"lo","type":"quantitative","scale":{"domain":[0,1],"nice":false},"axis":{"values":[0.07,0.93],"labelExpr":"datum.value > 0.5 ? 'Max' : 'Min'","ticks":false,"domain":false,"grid":false,"title":null,"labelFontSize":9,"labelPadding":1}},"y2":{"field":"hi"}}},
   {"data":{"name":"heatF"},
    "facet":{"row":{"field":"m","type":"nominal","sort":["Degree centrality (+)","Degree centrality (−)","Betweenness centrality","Eigenvector centrality","Degree assortativity (+)","Degree assortativity (−)","Clustering coefficient (+)","Clustering coefficient (−)"],"title":null,"header":{"labels":false,"title":null}}},
    "spacing":0,
    "bounds":"flush",
    "resolve":{"scale":{"color":"independent","y":"independent"}},
    "spec":{"width":305,"height":17,
     "encoding":{
      "x":{"field":"c","type":"nominal","sort":["6","3","1","2","9","4","7","8","0","5"],"scale":{"paddingInner":0,"paddingOuter":0},"axis":{"orient":"top","title":"Cluster","titleFontSize":7,"titleFontWeight":"normal","titlePadding":1,"labelAngle":0,"labelFontSize":9,"labelPadding":1,"ticks":false,"domain":false}},
      "y":{"field":"m","type":"nominal","scale":{"paddingInner":0,"paddingOuter":0},"axis":{"orient":"right","title":null,"ticks":false,"domain":false,"labelFontSize":8.5,"labelPadding":3,"labelLimit":200}}},
     "layer":[
      {"mark":{"type":"rect","color":"#BEBEBE","stroke":"#ffffff","strokeWidth":0.6},"encoding":{}},
      {"transform":[{"filter":"datum.v != null"}],"mark":{"type":"rect","stroke":"#ffffff","strokeWidth":0.6},"encoding":{"color":{"field":"v","type":"quantitative","scale":{"zero":false,"interpolate":"rgb","range":["#3A4BA5","#9A86D6","#EEEAEE","#F28B74","#E1301F"]},"legend":null}}},
      {"transform":[{"filter":"datum.v != null"}],"mark":{"type":"text","fontSize":7,"color":"#000"},"encoding":{"text":{"field":"v","type":"quantitative","format":".3f"}}},
      {"transform":[{"filter":"datum.v == null"}],"mark":{"type":"text","fontSize":7,"color":"#000","text":"NA"},"encoding":{}}
     ]}}
  ]}
 ]},
 {"spacing":3,"resolve":{"scale":{"color":"independent","stroke":"independent"}},"hconcat":[
  {"width":150,"height":136,"view":{"stroke":"#333","strokeWidth":1},"data":{"name":"umapG"},
   "title":{"text":"G","anchor":"start","fontSize":14,"offset":0},
   "mark":{"type":"circle","size":28,"opacity":0.95},
   "encoding":{
    "x":{"field":"x","type":"quantitative","scale":{"domain":[0,160],"nice":false},"axis":{"title":"UMAP1","labels":false,"ticks":false,"domain":false,"grid":false,"titleFontSize":9,"titleFontWeight":"normal","titlePadding":1}},
    "y":{"field":"y","type":"quantitative","scale":{"domain":[0,154],"nice":false,"reverse":true},"axis":{"title":"UMAP2","labels":false,"ticks":false,"domain":false,"grid":false,"titleFontSize":9,"titleFontWeight":"normal","titlePadding":3}},
    "color":{"field":"k","type":"nominal","scale":{"domain":["0","1","2","3","4","5","6","7","8","9"],"range":["#D3263A","#2B4BA0","#3DB5AB","#F7982C","#9B7DD2","#B5E3A0","#F08A8A","#4E90D6","#9BC81C","#F6E346"]},
     "legend":{"title":"Cluster","orient":"none","legendX":156,"legendY":26,"titleFontSize":7,"titleFontWeight":"normal","labelFontSize":7,"symbolSize":34,"symbolType":"circle","rowPadding":0.5,"titlePadding":2,"labelOffset":3,"padding":0}}}},
  {"width":4,"height":14,"data":{"values":[{"t":"H"}]},"mark":{"type":"text","fontSize":14,"fontWeight":"bold","color":"#000","baseline":"bottom","dy":-2},"encoding":{"text":{"field":"t"}}},
  {"spacing":2,"resolve":{"scale":{"color":"independent"}},"hconcat":[
   {"width":10,"height":34,"data":{"name":"leg"},
    "mark":{"type":"rect","color":{"gradient":"linear","x1":0,"y1":1,"x2":0,"y2":0,"stops":[{"offset":0,"color":"#3A4BA5"},{"offset":0.25,"color":"#9A86D6"},{"offset":0.5,"color":"#EEEAEE"},{"offset":0.75,"color":"#F28B74"},{"offset":1,"color":"#E1301F"}]}},
    "encoding":{"y":{"field":"lo","type":"quantitative","scale":{"domain":[0,1],"nice":false},"axis":{"values":[0.07,0.93],"labelExpr":"datum.value > 0.5 ? 'Max' : 'Min'","ticks":false,"domain":false,"grid":false,"title":null,"labelFontSize":9,"labelPadding":1}},"y2":{"field":"hi"}}},
   {"data":{"name":"heatH"},
    "facet":{"row":{"field":"m","type":"nominal","sort":["Degree centrality (+)","Degree centrality (−)","Betweenness centrality","Eigenvector centrality","Degree assortativity (+)","Degree assortativity (−)","Clustering coefficient (+)","Clustering coefficient (−)"],"title":null,"header":{"labels":false,"title":null}}},
    "spacing":0,
    "bounds":"flush",
    "resolve":{"scale":{"color":"independent","y":"independent"}},
    "spec":{"width":305,"height":17,
     "encoding":{
      "x":{"field":"c","type":"nominal","sort":["0","9","8","2","4","7","5","6","3","1"],"scale":{"paddingInner":0,"paddingOuter":0},"axis":{"orient":"top","title":"Cluster","titleFontSize":7,"titleFontWeight":"normal","titlePadding":1,"labelAngle":0,"labelFontSize":9,"labelPadding":1,"ticks":false,"domain":false}},
      "y":{"field":"m","type":"nominal","scale":{"paddingInner":0,"paddingOuter":0},"axis":{"orient":"right","title":null,"ticks":false,"domain":false,"labelFontSize":8.5,"labelPadding":3,"labelLimit":200}}},
     "layer":[
      {"mark":{"type":"rect","color":"#BEBEBE","stroke":"#ffffff","strokeWidth":0.6},"encoding":{}},
      {"transform":[{"filter":"datum.v != null"}],"mark":{"type":"rect","stroke":"#ffffff","strokeWidth":0.6},"encoding":{"color":{"field":"v","type":"quantitative","scale":{"zero":false,"interpolate":"rgb","range":["#3A4BA5","#9A86D6","#EEEAEE","#F28B74","#E1301F"]},"legend":null}}},
      {"transform":[{"filter":"datum.v != null"}],"mark":{"type":"text","fontSize":7,"color":"#000"},"encoding":{"text":{"field":"v","type":"quantitative","format":".3f"}}},
      {"transform":[{"filter":"datum.v == null"}],"mark":{"type":"text","fontSize":7,"color":"#000","text":"NA"},"encoding":{}}
     ]}}
  ]}
 ]}
]}
],
"config":{
 "font":"Liberation Sans",
 "view":{"stroke":null},
 "title":{"fontSize":10,"fontWeight":"bold","color":"#000"},
 "axis":{"labelColor":"#000","titleColor":"#000"},
 "header":{"labelColor":"#000"},
 "legend":{"labelColor":"#000","titleColor":"#000"}
}
}
